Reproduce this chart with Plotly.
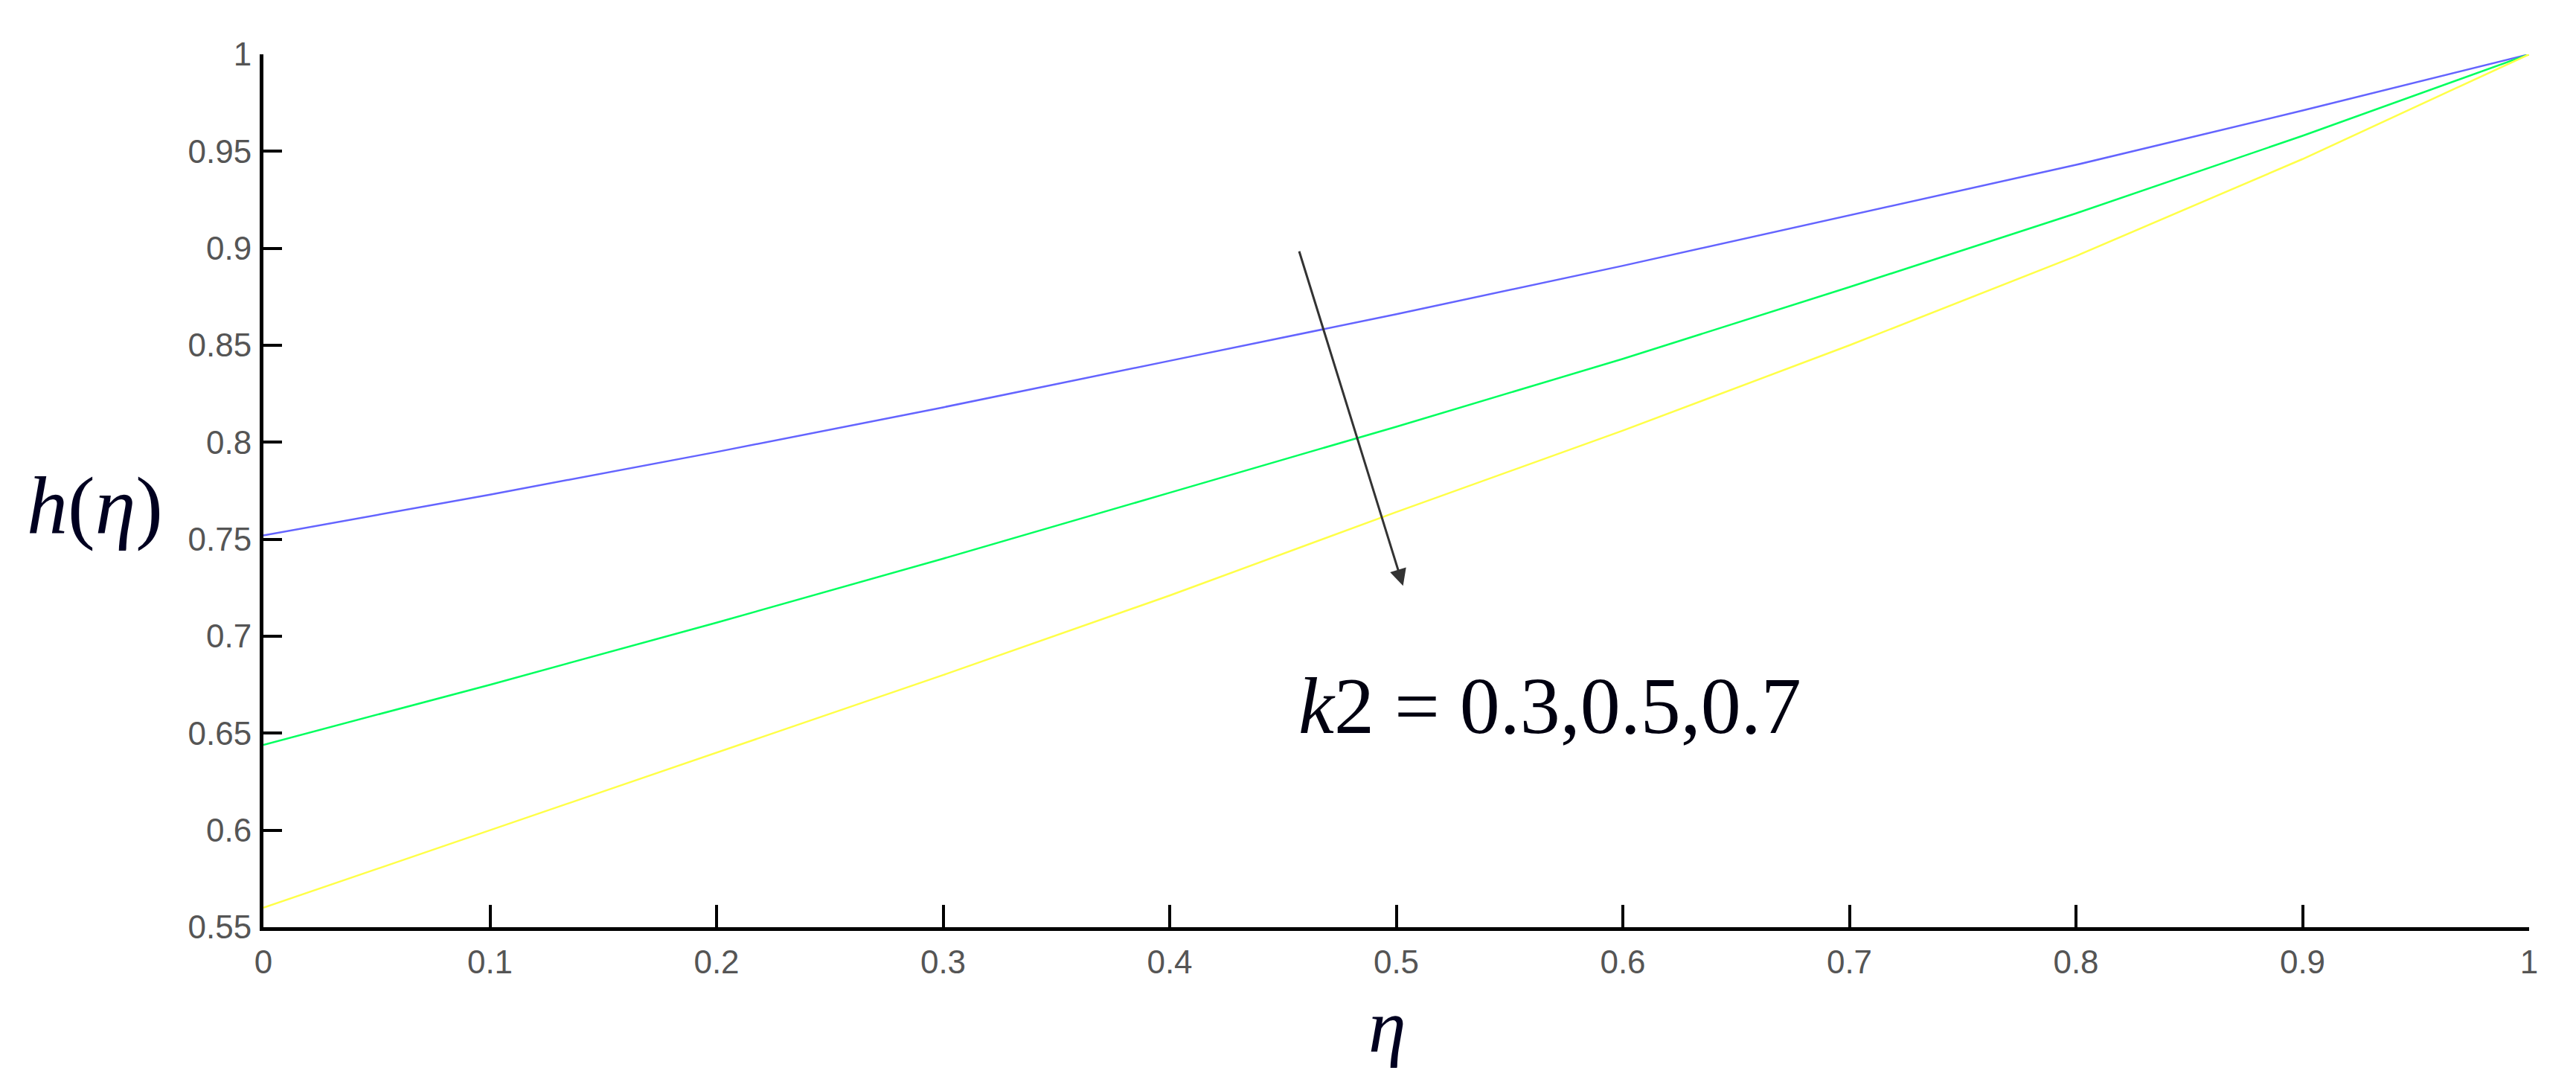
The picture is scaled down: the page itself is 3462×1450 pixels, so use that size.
import plotly.graph_objects as go

# h(eta) profiles for k2 = 0.3, 0.5, 0.7
eta = [0.0, 0.1, 0.2, 0.3, 0.4, 0.5, 0.6, 0.7, 0.8, 0.9, 1.0]
h_k03 = [0.752, 0.773, 0.795, 0.818, 0.842, 0.866, 0.891, 0.917, 0.943, 0.971, 1.0]
h_k05 = [0.644, 0.675, 0.707, 0.740, 0.774, 0.808, 0.843, 0.880, 0.918, 0.958, 1.0]
h_k07 = [0.560, 0.600, 0.640, 0.680, 0.721, 0.764, 0.806, 0.850, 0.896, 0.946, 1.0]

series = [
    (h_k03, '#6464ff'),
    (h_k05, '#00ff5e'),
    (h_k07, '#ffff48'),
]

fig = go.Figure()

for values, color in series:
    fig.add_trace(go.Scatter(
        x=eta, y=values,
        mode='lines',
        line=dict(color=color, width=2.5),
        showlegend=False,
        hoverinfo='skip'
    ))

tick_font = dict(family='Liberation Sans Narrow, Arial Narrow, Liberation Sans', size=44, color='#555555')

fig.update_layout(
    width=3462, height=1450,
    margin=dict(l=346, r=71, t=65, b=212),
    plot_bgcolor='white',
    paper_bgcolor='white',
    xaxis=dict(
        range=[0, 1], dtick=0.1, tick0=0,
        showgrid=False, zeroline=False,
        showline=True, linecolor='black', linewidth=5,
        ticks='inside', ticklen=30, tickwidth=4, tickcolor='black',
        tickfont=tick_font, ticklabelstandoff=4
    ),
    yaxis=dict(
        range=[0.55, 1], dtick=0.05, tick0=0.55,
        showgrid=False, zeroline=False,
        showline=True, linecolor='black', linewidth=5,
        ticks='inside', ticklen=25, tickwidth=4, tickcolor='black',
        tickfont=tick_font, ticklabelstandoff=2
    ),
)

serif = 'Liberation Serif, Times New Roman, serif'

# axis titles
fig.add_annotation(
    xref='paper', yref='y', x=-0.0745, y=0.767,
    text='<i>h</i>(<i>η</i>)', showarrow=False,
    xanchor='center', yanchor='middle',
    font=dict(family=serif, size=110, color='#000020')
)
fig.add_annotation(
    xref='x', yref='paper', x=0.496, y=-0.113,
    text='<i>η</i>', showarrow=False,
    xanchor='center', yanchor='middle',
    font=dict(family=serif, size=102, color='#000020')
)

# arrow showing increasing k2
fig.add_annotation(
    x=0.503, y=0.726, ax=0.457, ay=0.899,
    xref='x', yref='y', axref='x', ayref='y',
    text='', showarrow=True,
    arrowhead=2, arrowsize=1.5, arrowwidth=3, arrowcolor='#333333'
)
fig.add_annotation(
    xref='x', yref='y', x=0.456, y=0.664,
    text='<i>k</i>2 = 0.3,0.5,0.7', showarrow=False,
    xanchor='left', yanchor='middle',
    font=dict(family=serif, size=108, color='#000010')
)

fig.write_html('out.html')
